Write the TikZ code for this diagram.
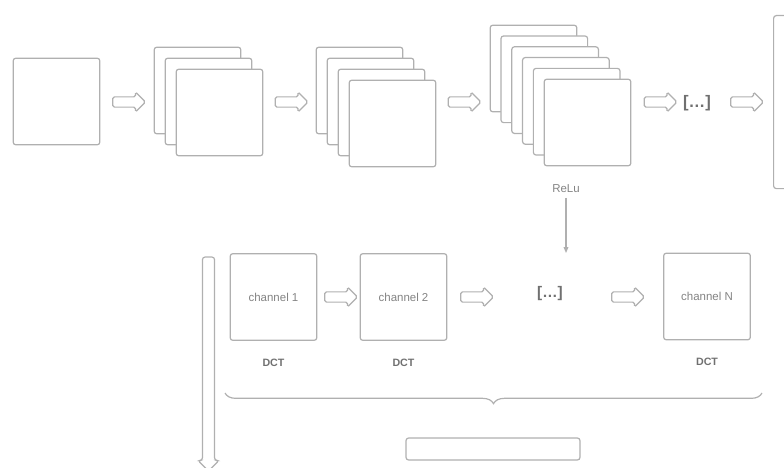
\documentclass[tikz,border=0pt]{standalone}
\usepackage{fontspec}
\setmainfont{Liberation Sans}
\usetikzlibrary{arrows.meta,positioning,shapes.arrows,decorations.pathreplacing}
\definecolor{cLine}{HTML}{B0B0B0}
\definecolor{cText}{HTML}{848484}
\definecolor{cDark}{HTML}{707070}

\begin{document}
\begin{tikzpicture}[
  x=0.75pt,y=-0.75pt,
  font=\fontsize{8.6}{10}\selectfont,
  fmap/.style={draw=cLine,fill=white,rounded corners=2pt,minimum size=65pt,
               inner sep=0pt,line width=0.9pt},
  chan/.style={fmap,text=cText},
  fat/.style={single arrow,draw=cLine,fill=white,rounded corners=1.2pt,line width=0.9pt,
              inner sep=3.4pt,minimum height=24.5pt,single arrow head extend=3.6pt},
  gap/.style={font=\bfseries\fontsize{11.5}{13}\selectfont,text=cDark},
  tag/.style={font=\bfseries\fontsize{8}{10}\selectfont,text=cDark},
  note/.style={text=cText},
  link/.style={-{Triangle[length=4.5pt,width=3.6pt]},draw=cLine,line width=0.8pt},
  brace/.style={decorate,decoration={brace,mirror,amplitude=8pt},draw=cLine,line width=0.9pt}
]
\useasboundingbox (0,0) rectangle (784,467);

% feature maps along the top row
\node[fmap] (input) at (56.5,101.5) {};
\foreach \k in {0,...,2}
  \node[fmap] (convA\k) at (197.5+11*\k,90.5+11*\k) {};
\foreach \k in {0,...,3}
  \node[fmap] (convB\k) at (359.5+11*\k,90.5+11*\k) {};
\foreach \k in {0,...,5}
  \node[fmap] (relu\k) at (533.5+10.8*\k,68.5+10.8*\k) {};
\node[note] (relu) at (566,189) {ReLu};
\node[gap,font=\bfseries\fontsize{12.5}{14}\selectfont] (more) at (697,103.5) {[\ldots]};
\node[fmap,minimum width=40pt,minimum height=129.75pt,anchor=north west] (flat) at (773,15) {};

\node[fat] (ar1) at (126.5,102) {};
\node[fat] (ar2) at (289,102) {};
\node[fat] (ar3) at (462,102) {};
\node[fat] (ar4) at (658,102) {};
\node[fat] (ar5) at (744.5,102) {};

% per-channel transform row
\coordinate (dropin) at (566,253);
\draw[link] (relu) -- (dropin);

\node[chan] (ch1) at (273.5,297) {channel 1};
\node[chan] (ch2) at (403.5,297) {channel 2};
\node[gap] (chdots) at (550,294) {[\ldots]};
\node[chan] (chN) at (707,296.5) {channel N};

\node[fat] (ar6) at (338.5,297) {};
\node[fat] (ar7) at (474.5,297) {};
\node[fat] (ar8) at (625.5,297) {};

\node[tag,below=10pt of ch1] (dct1) {DCT};
\node[tag,below=10pt of ch2] (dct2) {DCT};
\node[tag,below=10pt of chN] (dctN) {DCT};

\draw[brace] (225,393) -- (762,393);
\node[fmap,minimum width=130.5pt,minimum height=16.5pt] (merged) at (493,449) {};

\node[fat,rotate=-90,inner sep=4.1pt,minimum height=160.5pt,single arrow head extend=3.4pt,
      rounded corners=2pt] (down) at (208.5,361) {};
\end{tikzpicture}
\end{document}
